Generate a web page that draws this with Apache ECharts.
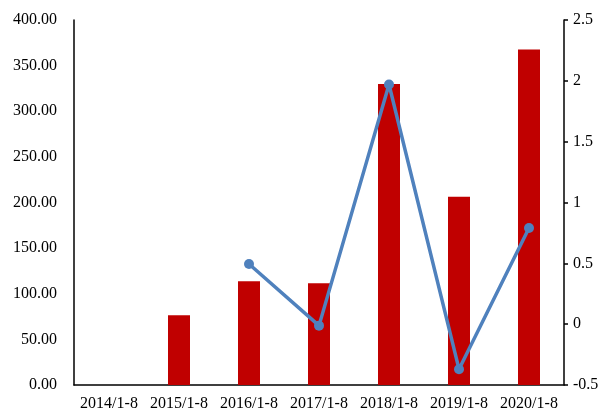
<!DOCTYPE html>
<html><head><meta charset="utf-8">
<script src="https://cdn.jsdelivr.net/npm/echarts@6/dist/echarts.min.js"></script>
<style>html,body{margin:0;padding:0;background:#fff}#c{width:602px;height:408px}</style>
</head><body><div id="c"></div>
<script>
var categories = ['2014/1-8','2015/1-8','2016/1-8','2017/1-8','2018/1-8','2019/1-8','2020/1-8'];
var barValues = [null, 76.4, 113.6, 111.4, 330, 206.4, 367.8];
var lineValues = [null, null, 0.495, -0.012, 1.97, -0.37, 0.79];
var font = '"Liberation Serif", "Times New Roman", serif';
var chart = echarts.init(document.getElementById('c'));
chart.setOption({
  animation: false,
  grid: {left: 74, right: 38, top: 20, bottom: 23, containLabel: false, outerBoundsMode: 'none'},
  xAxis: {
    type: 'category', data: categories,
    axisLine: {lineStyle: {color: '#000', width: 1.5}},
    axisTick: {show: false},
    axisLabel: {color: '#000', fontFamily: font, fontSize: 16, margin: 11, interval: 0}
  },
  yAxis: [{
    type: 'value', min: 0, max: 400, interval: 50,
    axisLine: {show: true, lineStyle: {color: '#000', width: 1.5}},
    axisTick: {show: false},
    splitLine: {show: false},
    axisLabel: {color: '#000', fontFamily: font, fontSize: 16, margin: 17, formatter: function(v){return v.toFixed(2);}}
  }, {
    type: 'value', min: -0.5, max: 2.5, interval: 0.5, position: 'right',
    axisLine: {show: true, lineStyle: {color: '#000', width: 1.5}},
    axisTick: {show: true, length: 4, lineStyle: {color: '#000', width: 1.5}},
    splitLine: {show: false},
    axisLabel: {color: '#000', fontFamily: font, fontSize: 16, margin: 9}
  }],
  series: [{
    type: 'bar', data: barValues, barWidth: 22,
    itemStyle: {color: '#C00000'}
  }, {
    type: 'line', yAxisIndex: 1, data: lineValues,
    symbol: 'circle', symbolSize: 10,
    lineStyle: {color: '#4F81BD', width: 3.5},
    itemStyle: {color: '#4F81BD'}
  }]
});
</script></body></html>
